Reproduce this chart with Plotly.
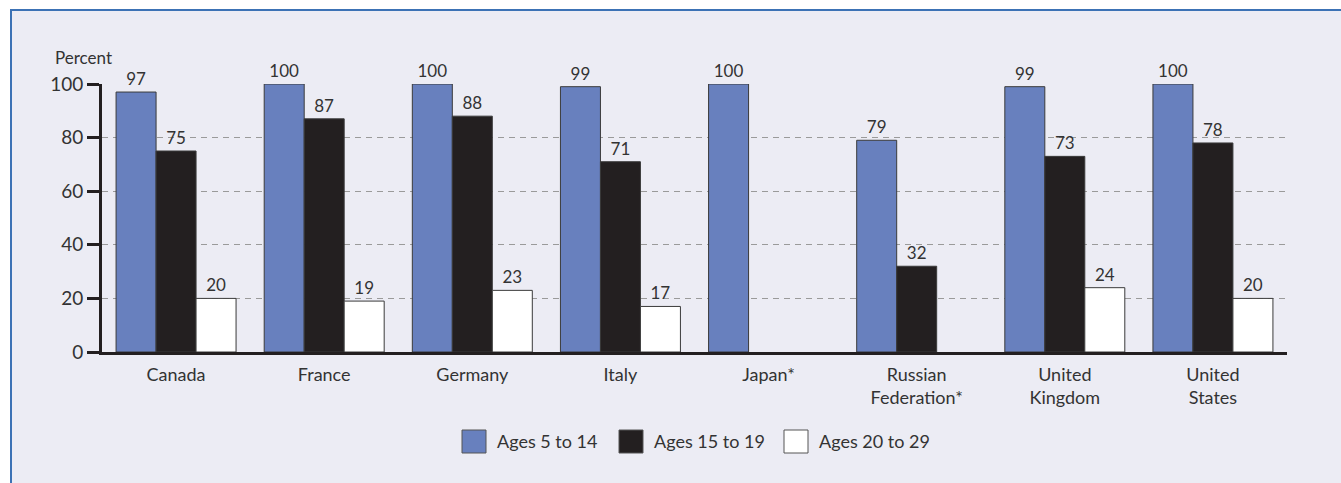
import plotly.graph_objects as go

categories = ["Canada", "France", "Germany", "Italy", "Japan*",
              "Russian<br>Federation*", "United<br>Kingdom", "United<br>States"]
series_names = ["Ages 5 to 14", "Ages 15 to 19", "Ages 20 to 29"]
ages_5_14 = [97, 100, 100, 99, 100, 79, 99, 100]
ages_15_19 = [75, 87, 88, 71, None, 32, 73, 78]
ages_20_29 = [20, 19, 23, 17, None, None, 24, 20]
y_ticks = [0, 20, 40, 60, 80, 100]

colors = ["#6880BE", "#231F20", "#FFFFFF"]
FONT = "Lato"
TXT = "#333333"

W, H = 1341, 483
L, R, T, B = 102, 54, 84, 131
PW, PH = W - L - R, H - T - B

def px(x):
    return (x - L) / PW

def py(y):
    return (H - B - y) / PH

fig = go.Figure()
for name, vals, col in zip(series_names, [ages_5_14, ages_15_19, ages_20_29], colors):
    fig.add_trace(go.Bar(
        x=categories, y=vals, name=name,
        marker=dict(color=col, line=dict(color="#3a3a3a", width=1)),
        text=["" if v is None else str(v) for v in vals],
        textposition="outside", cliponaxis=False,
        textfont=dict(family=FONT, size=17, color=TXT),
        showlegend=False,
    ))

shapes = [dict(type="rect", xref="paper", yref="paper",
               x0=px(11), x1=px(1346), y0=py(492), y1=py(10),
               fillcolor="#ECECF4", line=dict(color="#3C72B5", width=2),
               layer="below")]
annotations = [dict(text="Percent", xref="paper", yref="paper",
                    x=px(53), y=py(57), xanchor="left", yanchor="middle",
                    showarrow=False, font=dict(family=FONT, size=17, color=TXT))]

leg_x = [462, 619, 784]
for name, col, lx in zip(series_names, colors, leg_x):
    shapes.append(dict(type="rect", xref="paper", yref="paper",
                       x0=px(lx), x1=px(lx + 24), y0=py(453), y1=py(430),
                       fillcolor=col, line=dict(color="#555555", width=1)))
    annotations.append(dict(text=name, xref="paper", yref="paper",
                            x=px(lx + 33), y=py(441), xanchor="left", yanchor="middle",
                            showarrow=False, font=dict(family=FONT, size=18, color=TXT)))

fig.update_layout(
    width=W, height=H,
    margin=dict(l=L, r=R, t=T, b=B, pad=0),
    paper_bgcolor="white",
    plot_bgcolor="rgba(0,0,0,0)",
    barmode="group", bargap=0.19, bargroupgap=0,
    shapes=shapes, annotations=annotations,
    font=dict(family=FONT, size=17, color=TXT),
    xaxis=dict(showgrid=False, showline=True, linecolor="#231F20", linewidth=3,
               ticks="", ticklabelstandoff=4,
               tickfont=dict(family=FONT, size=18, color=TXT)),
    yaxis=dict(range=[0, 100], tickvals=y_ticks, showgrid=True,
               gridcolor="#9a9a9a", griddash="6px,5px", gridwidth=1,
               showline=True, linecolor="#231F20", linewidth=3,
               ticks="outside", ticklen=12, tickwidth=3, tickcolor="#231F20",
               zeroline=False, tickfont=dict(family=FONT, size=19, color=TXT)),
)

fig.write_html("out.html", config={"displayModeBar": False},
               post_script="document.body.style.margin='0';document.body.style.overflow='hidden';")
